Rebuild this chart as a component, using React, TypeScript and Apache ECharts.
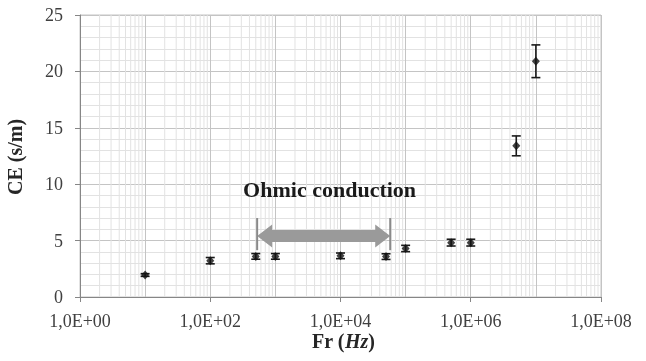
import React, { useEffect, useRef } from "react";
import * as echarts from "echarts";

// ---- data ----
const frequencies = [10, 100, 500, 1000, 10000, 50000, 100000, 500000, 1000000, 5000000, 10000000];
const ceValues = [1.95, 3.22, 3.6, 3.6, 3.65, 3.58, 4.3, 4.82, 4.82, 13.4, 20.9];
const ceErrors = [0.12, 0.28, 0.25, 0.25, 0.25, 0.25, 0.28, 0.3, 0.3, 0.88, 1.45];

const xTickValues = [1, 100, 10000, 1000000, 100000000];
const xTickLabels = ["1,0E+00", "1,0E+02", "1,0E+04", "1,0E+06", "1,0E+08"];
const yTickValues = [0, 5, 10, 15, 20, 25];
const yTickLabels = ["0", "5", "10", "15", "20", "25"];

const decadeStarts = [1, 10, 100, 1000, 10000, 100000, 1000000, 10000000];
const minorMultipliers = [2, 3, 4, 5, 6, 7, 8, 9];

const yAxisTitle = "CE (s/m)";
const xAxisTitleParts = ["Fr (", "Hz", ")"];

const annotationText = "Ohmic conduction";
const arrowStartHz = 525;
const arrowEndHz = 58000;
const arrowLevel = 5.4;
const bracketTop = 7.0;
const bracketBottom = 4.15;
const textHz = 6800;
const textLevel = 9.5;

const FAM = '"Liberation Serif"';
const TICK_FONT = `18px ${FAM}`;
const TITLE_FONT = `bold 20px ${FAM}`;
const TITLE_IT_FONT = `italic bold 20px ${FAM}`;
const NOTE_FONT = `bold 22px ${FAM}`;

function measure(font: string, text: string): number {
  const c = document.createElement("canvas").getContext("2d");
  if (!c) return text.length * 10;
  c.font = font;
  return c.measureText(text).width;
}

export default function App() {
  const ref = useRef<HTMLDivElement>(null);

  useEffect(() => {
    if (!ref.current) return;
    const chart = echarts.init(ref.current, undefined, { renderer: "svg" });

    const minorFreqs: number[][] = [];
    decadeStarts.forEach((d) => minorMultipliers.forEach((m) => minorFreqs.push([d * m, 0])));

    const points = frequencies.map((f, i) => [f, ceValues[i]]);
    const errs = frequencies.map((f, i) => [f, ceValues[i], ceErrors[i]]);

    const option: any = {
      animation: false,
      grid: {
        left: 80,
        top: 15,
        right: 45,
        bottom: 64,
        show: true,
        borderColor: "#c4c4c4",
        borderWidth: 1,
      },
      xAxis: [
        {
          type: "log",
          logBase: 10,
          min: 1,
          max: 100000000,
          position: "bottom",
          axisLine: { show: true, lineStyle: { color: "#868686", width: 1 } },
          axisTick: { show: false },
          axisLabel: { show: false },
          splitLine: { show: true, lineStyle: { color: "#c4c4c4", width: 1 } },
        },
        {
          type: "log",
          logBase: 10,
          min: 1,
          max: 100000000,
          interval: 2,
          position: "bottom",
          axisLine: { show: false },
          axisTick: { show: true, length: 5, lineStyle: { color: "#868686" } },
          splitLine: { show: false },
          axisLabel: { show: false },
        },
      ],
      yAxis: {
        type: "value",
        min: yTickValues[0],
        max: yTickValues[yTickValues.length - 1],
        interval: 5,
        axisLine: { show: true, lineStyle: { color: "#868686", width: 1 } },
        axisTick: { show: true, length: 5, lineStyle: { color: "#868686" } },
        axisLabel: { show: false },
        splitLine: { show: true, lineStyle: { color: "#c4c4c4", width: 1 } },
        minorTick: { show: false, splitNumber: 5 },
        minorSplitLine: { show: true, lineStyle: { color: "#e2e2e2", width: 1 } },
      },
      series: [
        {
          type: "custom",
          name: "minorGrid",
          silent: true,
          z: 0,
          xAxisIndex: 0,
          data: minorFreqs,
          encode: { x: 0, y: 1 },
          renderItem: (_p: any, api: any) => {
            const f = api.value(0);
            const a = api.coord([f, yTickValues[0]]);
            const b = api.coord([f, yTickValues[yTickValues.length - 1]]);
            return {
              type: "line",
              shape: { x1: a[0], y1: a[1], x2: b[0], y2: b[1] },
              style: { stroke: "#e2e2e2", lineWidth: 1 },
            };
          },
        },
        {
          type: "custom",
          name: "annotation",
          silent: true,
          z: 3,
          xAxisIndex: 0,
          data: [[arrowStartHz, arrowLevel, arrowEndHz]],
          encode: { x: 0, y: 1 },
          renderItem: (_p: any, api: any) => {
            const p1 = api.coord([arrowStartHz, arrowLevel]);
            const p2 = api.coord([arrowEndHz, arrowLevel]);
            const bt1 = api.coord([arrowStartHz, bracketTop]);
            const bb1 = api.coord([arrowStartHz, bracketBottom]);
            const bt2 = api.coord([arrowEndHz, bracketTop]);
            const bb2 = api.coord([arrowEndHz, bracketBottom]);
            const x1 = p1[0], x2 = p2[0], yc = p1[1];
            const hl = 15, hh = 11.5, sh = 6;
            return {
              type: "group",
              children: [
                {
                  type: "polygon",
                  shape: {
                    points: [
                      [x1, yc], [x1 + hl, yc - hh], [x1 + hl, yc - sh], [x2 - hl, yc - sh],
                      [x2 - hl, yc - hh], [x2, yc], [x2 - hl, yc + hh], [x2 - hl, yc + sh],
                      [x1 + hl, yc + sh], [x1 + hl, yc + hh],
                    ],
                  },
                  style: { fill: "#9a9a9a" },
                },
                {
                  type: "line",
                  shape: { x1: bt1[0], y1: bt1[1], x2: bb1[0], y2: bb1[1] },
                  style: { stroke: "#8a8a8a", lineWidth: 2 },
                },
                {
                  type: "line",
                  shape: { x1: bt2[0], y1: bt2[1], x2: bb2[0], y2: bb2[1] },
                  style: { stroke: "#8a8a8a", lineWidth: 2 },
                },
              ],
            };
          },
        },
        {
          type: "custom",
          name: "errors",
          silent: true,
          z: 4,
          xAxisIndex: 0,
          data: errs,
          encode: { x: 0, y: 1 },
          renderItem: (_p: any, api: any) => {
            const x = api.value(0), y = api.value(1), e = api.value(2);
            const t = api.coord([x, y + e]);
            const b = api.coord([x, y - e]);
            const hw = 4.5;
            const st = { stroke: "#1a1a1a", lineWidth: 1.6 };
            return {
              type: "group",
              children: [
                { type: "line", shape: { x1: t[0], y1: t[1], x2: b[0], y2: b[1] }, style: st },
                { type: "line", shape: { x1: t[0] - hw, y1: t[1], x2: t[0] + hw, y2: t[1] }, style: st },
                { type: "line", shape: { x1: b[0] - hw, y1: b[1], x2: b[0] + hw, y2: b[1] }, style: st },
              ],
            };
          },
        },
        {
          type: "scatter",
          name: "CE",
          z: 5,
          xAxisIndex: 0,
          symbol: "diamond",
          symbolSize: [8, 9],
          itemStyle: { color: "#111111" },
          data: points,
        },
      ],
    };

    chart.setOption(option);

    // ---- texts, placed through the chart's own scales ----
    const px = (v: number) => chart.convertToPixel({ xAxisIndex: 0 }, v) as number;
    const py = (v: number) => chart.convertToPixel({ yAxisIndex: 0 }, v) as number;
    const x0 = px(xTickValues[0]);
    const x1 = px(xTickValues[xTickValues.length - 1]);
    const y0 = py(yTickValues[0]);
    const y1 = py(yTickValues[yTickValues.length - 1]);

    const texts: any[] = [];
    xTickValues.forEach((v, i) => {
      texts.push({
        type: "text",
        x: px(v),
        y: y0 + 24,
        silent: true,
        style: { text: xTickLabels[i], font: TICK_FONT, fill: "#404040", align: "center", verticalAlign: "middle" },
      });
    });
    yTickValues.forEach((v, i) => {
      texts.push({
        type: "text",
        x: x0 - 17,
        y: py(v),
        silent: true,
        style: { text: yTickLabels[i], font: TICK_FONT, fill: "#404040", align: "right", verticalAlign: "middle" },
      });
    });
    texts.push({
      type: "text",
      x: 15,
      y: (y0 + y1) / 2 + 1,
      rotation: Math.PI / 2,
      silent: true,
      style: { text: yAxisTitle, font: TITLE_FONT, fill: "#262626", align: "center", verticalAlign: "middle" },
    });
    const fonts = [TITLE_FONT, TITLE_IT_FONT, TITLE_FONT];
    const widths = xAxisTitleParts.map((t, i) => measure(fonts[i], t));
    const total = widths.reduce((a, b) => a + b, 0);
    let cx = (x0 + x1) / 2 + 3 - total / 2;
    xAxisTitleParts.forEach((t, i) => {
      texts.push({
        type: "text",
        x: cx,
        y: y0 + 44,
        silent: true,
        style: { text: t, font: fonts[i], fill: "#262626", align: "left", verticalAlign: "middle" },
      });
      cx += widths[i];
    });
    texts.push({
      type: "text",
      x: px(textHz),
      y: py(textLevel),
      silent: true,
      z: 10,
      style: { text: annotationText, font: NOTE_FONT, fill: "#1a1a1a", align: "center", verticalAlign: "middle" },
    });

    chart.setOption({ graphic: texts });
    return () => chart.dispose();
  }, []);

  return <div ref={ref} style={{ position: "fixed", left: 0, top: 0, width: 646, height: 361 }} />;
}
